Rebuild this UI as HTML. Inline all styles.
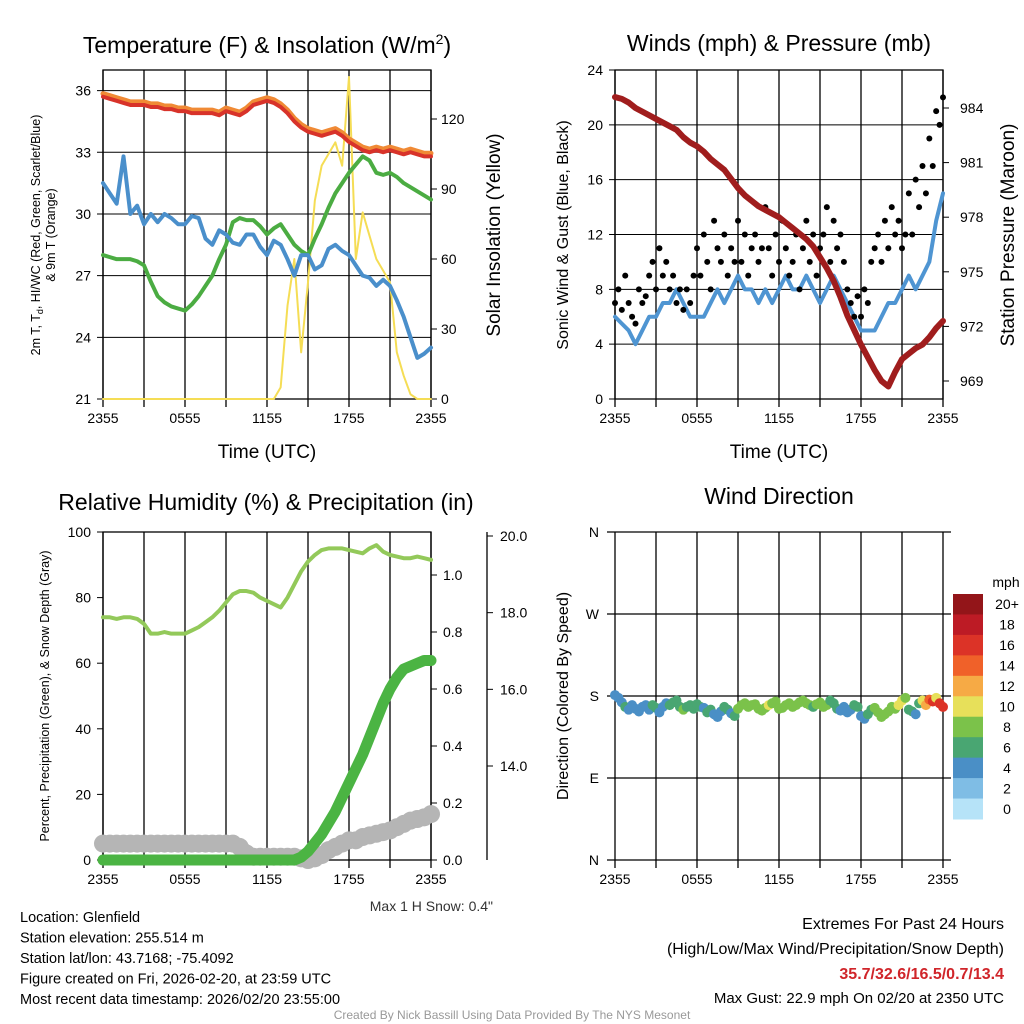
<!DOCTYPE html>
<html><head><meta charset="utf-8">
<style>
html,body{margin:0;padding:0;background:#fff;}
svg{display:block;font-family:"Liberation Sans",Arial,sans-serif;}
</style></head>
<body>
<svg id="c" width="1024" height="1024" viewBox="0 0 1024 1024"></svg>
<script>
// ---------- DATA ----------
const tempRed = [35.7,35.6,35.5,35.4,35.3,35.3,35.3,35.2,35.2,35.1,35.1,35.0,35.0,34.9,34.9,34.9,34.9,34.8,35.0,34.9,34.8,35.0,35.3,35.4,35.5,35.4,35.2,34.9,34.5,34.2,34.0,33.9,33.8,33.9,34.0,33.8,33.5,33.3,33.1,33.0,33.1,33.0,33.1,33.0,32.9,33.0,32.9,32.8,32.8];
const tempGreen = [28.0,27.9,27.8,27.8,27.8,27.7,27.5,26.7,26.0,25.7,25.5,25.4,25.3,25.6,26.0,26.5,27.0,27.8,28.5,29.6,29.8,29.7,29.7,29.4,29.0,29.3,29.5,29.0,28.5,28.2,28.0,28.8,29.5,30.3,31.0,31.5,32.0,32.4,32.8,32.6,32.0,31.9,32.0,31.8,31.5,31.3,31.1,30.9,30.7];
const tempBlue = [31.5,31.0,30.5,32.8,30.0,30.4,29.5,30.0,29.6,30.0,29.8,29.5,29.5,29.9,29.8,28.8,28.5,29.2,29.0,28.6,28.5,29.0,29.0,28.4,28.0,28.7,28.5,27.8,27.0,28.0,28.0,27.3,27.5,28.3,28.5,28.2,28.0,27.5,27.0,26.9,26.5,26.8,26.5,25.8,25.0,24.0,23.0,23.2,23.5];
const solar = [0,0,0,0,0,0,0,0,0,0,0,0,0,0,0,0,0,0,0,0,0,0,0,0,0,0,5,40,60,20,50,85,100,105,110,100,138,60,80,70,60,55,50,20,10,2,0,0,0];
const windSus = [6,5.5,5,4,5,6,6,7,7,8,7,6,6,6,7,8,7,8,9,8,8,7,8,7,8,9,8,8,9,8,7,8,9,8,7,6,5,5,5,6,7,7,8,9,8,9,10,13,15];
const windGust = [7,8,6.5,9,7,6,5.5,8,7,7.5,9,10,8,11,9,10,8,9,7,8,6.5,8,7,9,11,9,12,10,8,13,11,10,12,9,11,10,13,10,12,9,11,12,10,11,14,11,9,12,10,13,11,9,10,12,8,11,13,10,12,9,11,12,14,10,13,11,12,10,8,7,6,7.5,6,8,7,10,11,12,10,13,11,14,12,13,11,12,15,12,16,14,17,15,19,17,21,20,22];
const pressure = [984.6,984.5,984.3,984.0,983.8,983.6,983.4,983.2,983.0,982.8,982.4,982.1,981.9,981.6,981.2,980.9,980.6,980.1,979.6,979.2,978.9,978.6,978.4,978.2,978.0,977.7,977.4,977.1,976.8,976.4,975.8,975.2,974.5,973.6,972.6,971.8,971.0,970.3,969.6,969.0,968.7,969.5,970.2,970.5,970.8,971.0,971.4,971.9,972.3];
const rh = [74,74,73.5,74,74,73.5,72,69,69,69.5,69,69,69,70,71,72.5,74,76,78.5,81,82,82,81.5,80,79,78,77,80,84,88,91,93,94.5,95,95,95,94.5,94,93.5,95,96,94,93,92.5,92,92,92.5,92,91.5];
const precip = [0,0,0,0,0,0,0,0,0,0,0,0,0,0,0,0,0,0,0,0,0,0,0,0,0,0,0,0,0,0.01,0.03,0.06,0.09,0.13,0.17,0.22,0.27,0.32,0.37,0.43,0.49,0.55,0.6,0.64,0.67,0.68,0.69,0.7,0.7];
const snowPct = [5,5,5,5,5,5,5,5,5,5,5,5,5,5,5,5,5,5,5,5,4,2,1,1,1,1,1,1,1,0.5,0,0.5,1.5,3,4,5,6,6,7,7.5,8,8.5,9,10,11,12,12.5,13,14];
const windDir = [181,178,173,168,165,170,166,163,168,170,165,170,167,162,168,172,170,173,175,168,165,168,170,166,171,168,167,162,165,160,157,163,168,165,161,158,166,170,172,168,170,171,166,164,167,170,172,174,166,167,170,172,168,170,173,175,172,170,168,171,173,168,170,175,172,166,164,168,162,165,170,168,158,155,160,165,167,162,157,160,163,168,166,170,175,178,165,163,160,172,175,170,176,174,178,172,168];
const windSpd = [4,4,4,6,4,4,4,4,4,4,4,6,6,4,4,4,6,6,6,6,8,6,6,6,6,6,4,6,6,4,4,4,6,6,4,6,8,8,8,8,8,8,8,8,8,10,8,8,8,8,8,8,8,8,8,8,8,8,6,8,8,8,8,6,6,6,4,4,4,4,6,6,4,4,6,6,8,8,8,8,8,8,8,10,10,8,6,6,4,6,10,12,14,16,10,16,17];
const yTicksT = [21,24,27,30,33,36];
const yTicksSolar = [0,30,60,90,120];
const yTicksWind = [0,4,8,12,16,20,24];
const yTicksP = [969,972,975,978,981,984];
const yTicksRH = [0,20,40,60,80,100];
const yTicksPr = [0,0.2,0.4,0.6,0.8,1.0];
const yTicksSnow = [14,16,18,20];
const xLabels = ["2355","0555","1155","1755","2355"];
const dirLabels = ["N","E","S","W","N"];
const cbLabels = ["20+","18","16","14","12","10","8","6","4","2","0"];
const cbColors = ["#931519","#bd1b25","#dc3327","#f06129","#f6aa45","#e7e05a","#7bc24a","#49a672","#4a8fc6","#7fbde5","#b6e3f8"];

// ---------- HELPERS ----------
const NS="http://www.w3.org/2000/svg", svg=document.getElementById('c');
function mk(tag,at,parent){const e=document.createElementNS(NS,tag);for(const k in at)e.setAttribute(k,at[k]);(parent||svg).appendChild(e);return e;}
function txt(x,y,s,size,anchor,extra){const t=mk('text',Object.assign({x:x,y:y,'font-size':size,'text-anchor':anchor||'middle',fill:'#000'},extra||{}));t.textContent=s;return t;}
const lin=(d0,d1,p0,p1)=>v=>p0+(v-d0)*(p1-p0)/(d1-d0);
const hours=a=>a.map((_,i)=>i*24/(a.length-1));

function frame(name){
  const g=mk('g',{});
  
  
  return g;
}
function vgrid(g,L,T,R,B){
  const X=lin(0,24,L,R);
  for(let h=0;h<=24;h+=3){mk('line',{x1:X(h),y1:T,x2:X(h),y2:B+8,stroke:'#000','stroke-width':1.3},g);}
  xLabels.forEach((s,i)=>{const t=txt(X(i*6),B+24,s,14);});
}
function polyline(g,xs,ys,color,w,name){
  const p=mk('polyline',{points:xs.map((x,i)=>x+','+ys[i]).join(' '),fill:'none',stroke:color,'stroke-width':w,'stroke-linejoin':'round','stroke-linecap':'round'},g);
  
  
  return p;
}

// ---------- PANEL 1: TEMPERATURE ----------
(function(){
  const L=103,T=70,R=431,B=399;
  const g=frame('temperature-panel');
  const X=lin(0,24,L,R), Y=lin(21,37,B,T), YS=lin(0,141,B,T);
  mk('rect',{x:L,y:T,width:R-L,height:B-T,fill:'none',stroke:'#000','stroke-width':1.3},g);
  yTicksT.forEach(v=>{mk('line',{x1:L-6,y1:Y(v),x2:R,y2:Y(v),stroke:'#000','stroke-width':1},g);const t=txt(L-12,Y(v)+5,String(v),14,'end');});
  yTicksSolar.forEach(v=>{mk('line',{x1:R,y1:YS(v),x2:R+6,y2:YS(v),stroke:'#000'},g);const t=txt(R+10,YS(v)+5,String(v),14,'start');});
  vgrid(g,L,T,R,B);
  const hs=hours(tempRed);
  polyline(g,hs.map(X),solar.map(YS),'#f5dd55',2,'solar-line');
  polyline(g,hs.map(X),tempRed.map(v=>Y(v+0.15)),'#f08a35',5,'temp-9m-orange-line');
  polyline(g,hs.map(X),tempRed.map(Y),'#d8332a',4,'temp-2m-red-line');
  polyline(g,hs.map(X),tempGreen.map(Y),'#4bac42',4,'windchill-green-line');
  polyline(g,hs.map(X),tempBlue.map(Y),'#4a8fcb',4,'dewpoint-blue-line');
  const t1=txt(267,53,'',23);t1.innerHTML='Temperature (F) &amp; Insolation (W/m<tspan dy="-9" font-size="14">2</tspan><tspan dy="9">)</tspan>';
  
  const t2=txt(267,458,'Time (UTC)',19);
  const t3=txt(0,0,'',12.5,'middle',{transform:'translate(40,235) rotate(-90)'});t3.innerHTML='2m T, T<tspan dy="3" font-size="9">d</tspan><tspan dy="-3">, HI/WC (Red, Green, Scarlet/Blue)</tspan>';
  
  const t4=txt(0,0,'& 9m T (Orange)',12.5,'middle',{transform:'translate(55,235) rotate(-90)'});
  const t5=txt(0,0,'Solar Insolation (Yellow)',19,'middle',{transform:'translate(500,235) rotate(-90)'});
})();

// ---------- PANEL 2: WINDS ----------
(function(){
  const L=615,T=70,R=943,B=399;
  const g=frame('winds-panel');
  const X=lin(0,24,L,R), Y=lin(0,24,B,T), YP=lin(969,984,381,108);
  mk('rect',{x:L,y:T,width:R-L,height:B-T,fill:'none',stroke:'#000','stroke-width':1.3},g);
  yTicksWind.forEach(v=>{mk('line',{x1:L-6,y1:Y(v),x2:R,y2:Y(v),stroke:'#000'},g);const t=txt(L-12,Y(v)+5,String(v),14,'end');});
  yTicksP.forEach(v=>{mk('line',{x1:R,y1:YP(v),x2:R+6,y2:YP(v),stroke:'#000'},g);const t=txt(R+17,YP(v)+5,String(v),14,'start');});
  vgrid(g,L,T,R,B);
  polyline(g,hours(windSus).map(X),windSus.map(Y),'#4f95d2',4,'sustained-wind-line');
  const gh=hours(windGust);
  windGust.forEach((v,i)=>{const c=mk('circle',{cx:X(gh[i]),cy:Y(v),r:3,fill:'#000'},g);});
  polyline(g,hours(pressure).map(X),pressure.map(YP),'#a01d1d',6,'pressure-line');
  const t1=txt(779,51,'Winds (mph) & Pressure (mb)',23);
  const t2=txt(779,458,'Time (UTC)',19);
  const t3=txt(0,0,'Sonic Wind & Gust (Blue, Black)',16,'middle',{transform:'translate(568,235) rotate(-90)'});
  const t4=txt(0,0,'Station Pressure (Maroon)',19,'middle',{transform:'translate(1014,235) rotate(-90)'});
})();

// ---------- PANEL 3: RH & PRECIP ----------
(function(){
  const L=103,T=532,R=431,B=860;
  const g=frame('humidity-panel');
  const X=lin(0,24,L,R), Y=lin(0,100,B,T), YR=lin(0,1,860,575), YN=lin(14,20,766,536);
  mk('rect',{x:L,y:T,width:R-L,height:B-T,fill:'none',stroke:'#000','stroke-width':1.3},g);
  yTicksRH.forEach(v=>{mk('line',{x1:L-6,y1:Y(v),x2:L,y2:Y(v),stroke:'#000'},g);const t=txt(L-12,Y(v)+5,String(v),14,'end');});
  yTicksPr.forEach(v=>{mk('line',{x1:R,y1:YR(v),x2:R+6,y2:YR(v),stroke:'#000'},g);const t=txt(R+12,YR(v)+5,v.toFixed(1),14,'start');});
  mk('line',{x1:487,y1:T,x2:487,y2:B,stroke:'#000','stroke-width':1.3},g);
  yTicksSnow.forEach(v=>{mk('line',{x1:487,y1:YN(v),x2:493,y2:YN(v),stroke:'#000'},g);const t=txt(500,YN(v)+5,v.toFixed(1),14,'start');});
  vgrid(g,L,T,R,B);
  const hs=hours(rh);
  polyline(g,hs.map(X),rh.map(Y),'#93c95a',4,'rh-line');
  snowPct.forEach((v,i)=>{const c=mk('circle',{cx:X(hs[i]),cy:Y(v),r:9,fill:'#b5b5b5'},g);});
  polyline(g,hs.map(X),snowPct.map(Y),'#b5b5b5',16,'snow-depth-line');
  polyline(g,hs.map(X),precip.map(YR),'#4bb443',11,'precip-line');
  const t1=txt(266,510,'Relative Humidity (%) & Precipitation (in)',23);
  const t2=txt(0,0,'Percent, Precipitation (Green), & Snow Depth (Gray)',12.5,'middle',{transform:'translate(49,696) rotate(-90)'});
  const t3=txt(493,911,'Max 1 H Snow: 0.4"',14,'end',{fill:'#333'});
})();

// ---------- PANEL 4: WIND DIRECTION ----------
(function(){
  const L=615,T=532,R=943,B=860;
  const g=frame('wind-direction-panel');
  const X=lin(0,24,L,R), Y=lin(0,360,B,T);
  vgrid(g,L,T,R,B);
  dirLabels.forEach((s,i)=>{const v=i*90;mk('line',{x1:L-8,y1:Y(v),x2:R+8,y2:Y(v),stroke:'#000','stroke-width':1.3},g);const t=txt(L-16,Y(v)+5,s,14,'end');});
  const hs=hours(windDir);
  windDir.forEach((v,i)=>{const s=windSpd[i];const k=Math.max(0,Math.min(10,10-Math.floor(s/2)));
    const c=mk('circle',{cx:X(hs[i]),cy:Y(v),r:5,fill:cbColors[k]},g);});
  const t1=txt(779,504,'Wind Direction',23);
  const t2=txt(0,0,'Direction (Colored By Speed)',16,'middle',{transform:'translate(568,696) rotate(-90)'});
  const cb=mk('g',{});
  const h=(819-594)/11;
  cbColors.forEach((col,i)=>{mk('rect',{x:953,y:594+i*h,width:30,height:h+0.5,fill:col},cb);const t=txt(1007,594+i*h+h/2+5,cbLabels[i],14);});
  const t3=txt(1006,587,'mph',14);
})();

// ---------- FOOTER ----------
const info=["Location: Glenfield","Station elevation: 255.514 m","Station lat/lon: 43.7168; -75.4092","Figure created on Fri, 2026-02-20, at 23:59 UTC","Most recent data timestamp: 2026/02/20 23:55:00"];
info.forEach((s,i)=>{const t=txt(20,922+i*20.5,s,14.5,'start');});
const e1=txt(1004,929,'Extremes For Past 24 Hours',16,'end');
const e2=txt(1004,954,'(High/Low/Max Wind/Precipitation/Snow Depth)',16,'end');
const e3=txt(1004,979,'35.7/32.6/16.5/0.7/13.4',16,'end',{fill:'#d0252a','font-weight':'bold'});
const e4=txt(1004,1003,'Max Gust: 22.9 mph On 02/20 at 2350 UTC',15,'end');
const cr=txt(512,1019,'Created By Nick Bassill Using Data Provided By The NYS Mesonet',12,'middle',{fill:'#999'});
</script>
</body></html>
